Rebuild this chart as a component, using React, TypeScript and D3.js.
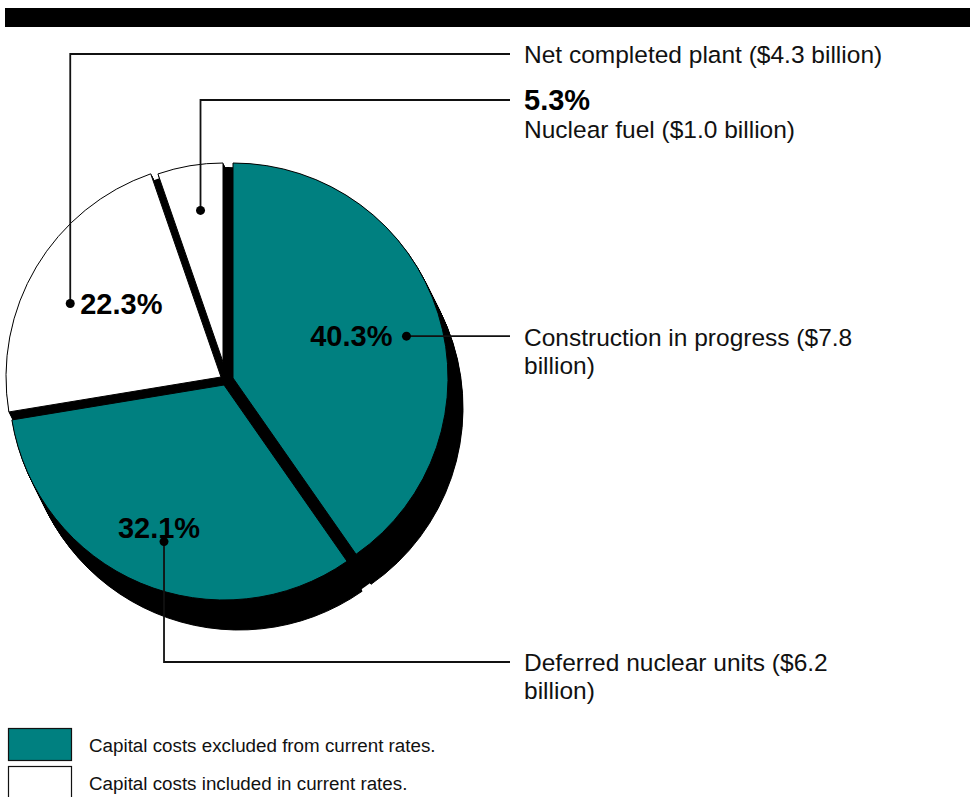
import React from "react";
import * as d3 from "d3";

// ---- Data ----
const sliceNames = ["Construction in progress", "Deferred nuclear units", "Net completed plant", "Nuclear fuel"];
const sliceValues = [40.3, 32.1, 22.3, 5.3];
const sliceAmounts = ["$7.8", "$6.2", "$4.3", "$1.0"];
const sliceGroup = [0, 0, 1, 1];
const legendLabels = ["Capital costs excluded from current rates.", "Capital costs included in current rates."];
const groupColors = ["#008080", "#ffffff"];

// ---- Layout / style ----
const W = 970;
const H = 797;
const FONT = "'Liberation Sans', Arial, Helvetica, sans-serif";
const CX = 224;
const CY = 378;
const R = 215;
const explode = [
  { dx: 9, dy: 0, r: 1 },
  { dx: 0, dy: 7, r: 1 },
  { dx: -3, dy: -1, r: 1 },
  { dx: -1, dy: -16, r: 199 / 215 },
];
// label anchor placement: angle shift (deg) from slice middle and radius fraction
const anchorTweak = [
  { da: 3.9, rf: 0.83 },
  { da: -1.9, rf: 0.78 },
  { da: -4.8, rf: 0.78 },
  { da: 1.1, rf: 0.77 },
];
const DEPTH_X = 15;
const DEPTH_Y = 30;
const STEPS = 30;
const LABEL_X = 524;
const LINE_END = 510;

export default function App() {
  const pie = d3.pie<number>().sort(null).value((d) => d)(sliceValues);
  const arcs = pie.map((p, i) => {
    const e = explode[i];
    const rr = R * e.r;
    const gen = d3.arc<any>().innerRadius(0).outerRadius(rr);
    const mid = (p.startAngle + p.endAngle) / 2 + (anchorTweak[i].da * Math.PI) / 180;
    const rd = rr * anchorTweak[i].rf;
    return {
      p,
      path: gen(p as any) as string,
      ox: CX + e.dx,
      oy: CY + e.dy,
      dot: [CX + e.dx + rd * Math.sin(mid), CY + e.dy - rd * Math.cos(mid)],
    };
  });

  const shadowLayers: JSX.Element[] = [];
  for (let s = STEPS; s >= 0; s--) {
    const sx = (DEPTH_X * s) / STEPS;
    const sy = (DEPTH_Y * s) / STEPS;
    shadowLayers.push(<circle key={`u${s}`} cx={CX + 4 + sx} cy={CY + 3 + sy} r={R - 1} fill="#000" />);
    if (s === 0) continue;
    arcs.forEach((a, i) => {
      shadowLayers.push(
        <path
          key={`s${s}-${i}`}
          d={a.path}
          transform={`translate(${a.ox + sx},${a.oy + sy})`}
          fill="#000"
          stroke="#000"
          strokeWidth={1}
        />
      );
    });
  }

  const pct = (v: number) => `${v.toFixed(1)}%`;
  const [t1, t2, w1, w2] = arcs;

  const labelStyle = { fontFamily: FONT, fontSize: 24.5, fill: "#111" } as const;
  const pctStyle = { fontFamily: FONT, fontSize: 29, fontWeight: 700, fill: "#000" } as const;

  return (
    <svg width={W} height={H} style={{ position: "absolute", left: 0, top: 0, background: "#fff" }}>
      <rect x={5} y={8} width={W - 5} height={19} fill="#000" />

      {shadowLayers}
      {arcs.map((a, i) => (
        <path
          key={`top${i}`}
          d={a.path}
          transform={`translate(${a.ox},${a.oy})`}
          fill={groupColors[sliceGroup[i]]}
          stroke="#000"
          strokeWidth={1}
        />
      ))}

      {/* Leader lines */}
      <g fill="none" stroke="#111" strokeWidth={1.8}>
        <polyline points={`${w1.dot[0]},${w1.dot[1]} ${w1.dot[0]},54 ${LINE_END},54`} />
        <polyline points={`${w2.dot[0]},${w2.dot[1]} ${w2.dot[0]},100 ${LINE_END},100`} />
        <polyline points={`${t1.dot[0]},${t1.dot[1]} ${LINE_END},${t1.dot[1]}`} />
        <polyline points={`${t2.dot[0]},${t2.dot[1]} ${t2.dot[0]},662 ${LINE_END},662`} />
      </g>
      {arcs.map((a, i) => (
        <circle key={`dot${i}`} cx={a.dot[0]} cy={a.dot[1]} r={4.5} fill="#000" />
      ))}

      {/* Percent labels on pie */}
      <text x={w1.dot[0] + 10} y={w1.dot[1] + 10} style={pctStyle}>{pct(sliceValues[2])}</text>
      <text x={t1.dot[0] - 14} y={t1.dot[1] + 10} textAnchor="end" style={pctStyle}>{pct(sliceValues[0])}</text>
      <text x={t2.dot[0] - 5} y={t2.dot[1] - 4} textAnchor="middle" style={pctStyle}>{pct(sliceValues[1])}</text>

      {/* Right-side labels */}
      <text x={LABEL_X} y={63} style={labelStyle}>{`${sliceNames[2]} (${sliceAmounts[2]} billion)`}</text>
      <text x={LABEL_X} y={110} style={pctStyle}>{pct(sliceValues[3])}</text>
      <text x={LABEL_X} y={138} style={labelStyle}>{`${sliceNames[3]} (${sliceAmounts[3]} billion)`}</text>
      <text x={LABEL_X} y={t1.dot[1] + 10} style={labelStyle}>{`${sliceNames[0]} (${sliceAmounts[0]}`}</text>
      <text x={LABEL_X} y={t1.dot[1] + 38} style={labelStyle}>billion)</text>
      <text x={LABEL_X} y={671} style={labelStyle}>{`${sliceNames[1]} (${sliceAmounts[1]}`}</text>
      <text x={LABEL_X} y={699} style={labelStyle}>billion)</text>

      {/* Legend */}
      {legendLabels.map((l, i) => (
        <g key={`lg${i}`}>
          <rect x={8.5} y={728.5 + i * 38} width={63} height={32} fill={groupColors[i]} stroke="#111" strokeWidth={1.2} />
          <text x={89} y={752 + i * 38} style={{ fontFamily: FONT, fontSize: 18.8, fill: "#111" }}>{l}</text>
        </g>
      ))}
    </svg>
  );
}
